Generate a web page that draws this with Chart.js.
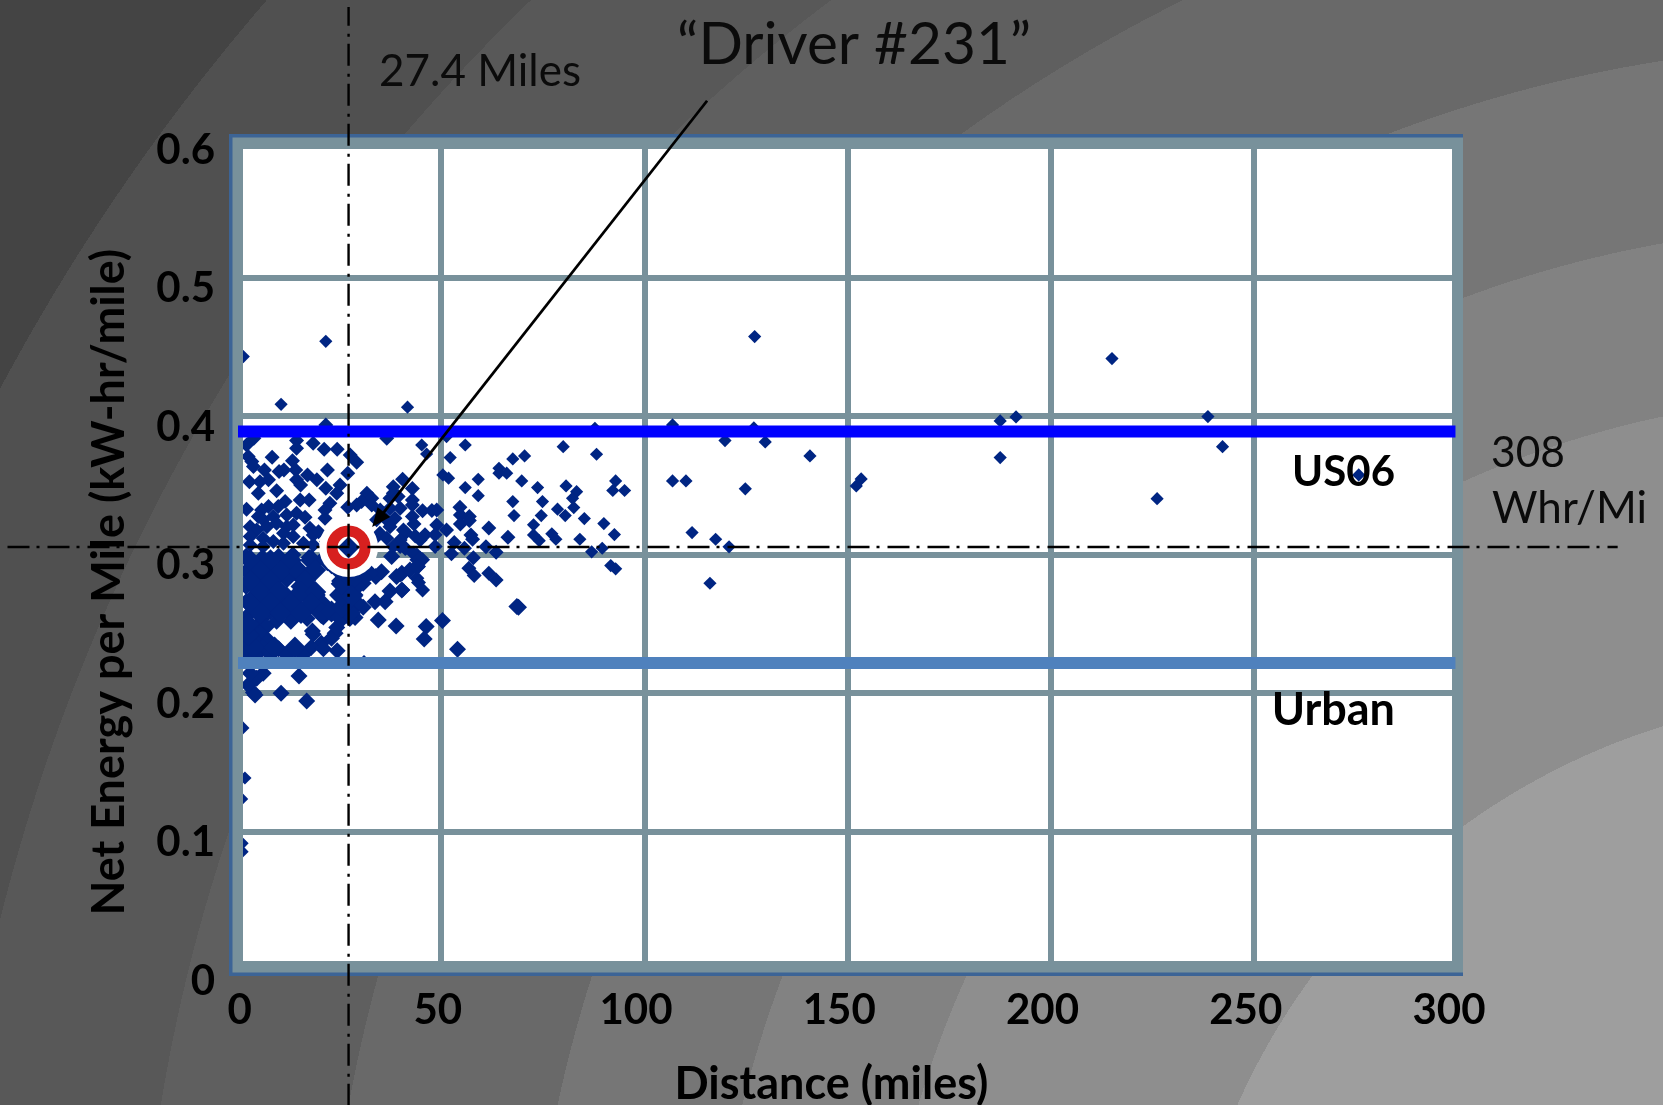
<!DOCTYPE html>
<html>
<head>
<meta charset="utf-8">
<title>Driver #231</title>
<script src="https://cdn.jsdelivr.net/npm/chart.js@4/dist/chart.umd.min.js"></script>
<style>html,body{margin:0;padding:0;overflow:hidden;background:#666}canvas{display:block}</style>
</head>
<body>
<canvas id="c" width="1663" height="1105"></canvas>
<script>
const xTickLabels = ['  0',' 50','100','150','200','250','300'];
const yTickLabels = ['0','0.1','0.2','0.3','0.4','0.5','0.6'];
const xTitle = 'Distance (miles)';
const yTitle = 'Net Energy per Mile (kW-hr/mile)';
const us06Energy = 0.389;
const urbanEnergy = 0.2218;
const driverDistance = 27.2;
const driverEnergy = 0.3053;

// Trips: [distance, net energy per mile]
const farTrips = [[41.7,.4066],[45.2,.3793],[46.4,.3728],[51.3,.3854],[55.9,.3793],[52.2,.3702],[50.4,.3577],[51.8,.3553],[59.1,.3545],[55.9,.3485],[59.1,.3427],[64.2,.3625],[64.2,.3589],[66.1,.3589],[67.6,.3692],[70.5,.3714],[69.8,.3533],[73.7,.3485],[74.9,.3384],[67.6,.3384],[67.9,.3283],[74.6,.3283],[72.7,.3216],[72.7,.3143],[74.1,.3102],[77.2,.3151],[78.2,.3112],[78.6,.3329],[80.5,.3283],[80.0,.3781],[80.7,.3497],[83.3,.3456],[82.3,.3408],[82.6,.3341],[85.2,.3261],[84.1,.3112],[90.0,.3225],[92.6,.3146],[88.2,.3726],[87.8,.3914],[92.9,.3533],[92.2,.3464],[95.1,.3464],[87.0,.3021],[89.6,.3047],[91.7,.2922],[92.9,.2898],[106.9,.3938],[119.8,.3825],[106.9,.3533],[110.2,.3533],[124.8,.3476],[111.7,.3160],[117.5,.3112],[120.8,.3057],[116.1,.2794],
[127.1,.4576],[129.7,.3815],[126.9,.3916],[140.7,.3714],[152.1,.3497],[153.3,.3548],[187.5,.3967],[191.4,.3996],[187.5,.3702],[215,.4417],[238.6,.3998],[242.2,.3781],[226.1,.3405],[275.7,.3577],
[21.6,.4542],[10.6,.4087],[1.3,.4432],[1.2,.1749],[1.7,.1387],[.9,.1236],[1,.0915],[1,.0855],[31.0,.2228]];

const midTrips = [[54.6,.3343],[54.7,.3288],[54.7,.3223],[56.9,.3276],[56.9,.3247],[51.3,.3179],[48.9,.3215],[48.9,.3324],[47.7,.3319],[45.4,.3317],[42.9,.3396],[42.9,.3360],[42.9,.3478],[40.5,.3545],[42.9,.3276],[43.3,.3223],[41.3,.3160],[43.6,.3136],[46.0,.3144],[48.5,.3144],[44.8,.3107],[41.2,.3047],[48.5,.3059],[53.2,.3088],[52.5,.3008],[55.7,.3047],[57.3,.3143],[57.7,.3112],[61.0,.3057],[63.5,.3018],[61.7,.3194],[66.4,.3126],[57.9,.2979],[56.8,.2902],[58.1,.2850],[61.7,.2866],[63.5,.2818],[44.0,.2999],[45.4,.2963],[44,.2963],[44.4,.2915],[42.2,.2886],[44,.2830],[44.4,.2799],[45.4,.2746],[40.5,.2746],[39.9,.2854],
[37.4,.3408],[38.2,.3492],[38.2,.3444],[31.7,.3444],[32.9,.3408],[35,.3324],[37.4,.3336],[39.9,.3336],[39.4,.3420],[39.9,.3059],[41.1,.3047],[43.1,.3011],[36.6,.3842],[29.2,.3668],[27.6,.3721],[27,.3589],[25.1,.3504],[24.3,.3444],[34.1,.3252],[36.2,.3264],[38.6,.3264],[40.7,.3179],[37.4,.3203],[34.9,.3155],[33.3,.3107],[36.6,.3119],[39.9,.3107],[38.2,.3059],[30.4,.3384],[32.9,.3360],[29.2,.3360],[27,.3343]];

const nearTrips = [[21.6,.3938],[14.4,.3825],[18.5,.3806],[3.9,.3842],[2.1,.3793],[21.2,.3762],[24.4,.3762],[14.4,.3769],
[2.5,.3709],[3.4,.3673],[3.8,.3637],[8.4,.3704],[13.4,.3680],[14.2,.3613],[10.1,.3601],[11.3,.3613],[6.5,.3613],[7.5,.3541],[22,.3613],[17.1,.3577],[19.4,.3541],[14.4,.3541],[15.4,.3504],[21.6,.3480],[2.8,.3528],[5.4,.3528],[5,.3444],[9.5,.3463],[22.6,.3372],[21.4,.3324],[21.4,.3264],[15.3,.3396],[17.5,.3396],[11.6,.3384],[9.9,.3348],[7.5,.3348],[5.8,.3324],[5,.3276],[6.2,.3252],[2.1,.3329],[8.7,.3276],[12,.3288],[14.4,.3300],[16.5,.3271],[3,.3203],[4.6,.3179],[7.1,.3203],[9.5,.3227],[12,.3203],[13.6,.3215],[11.2,.3155],[13.6,.3131],[17.7,.3191],[18.5,.3143],[19.8,.3167],[3,.3131],[6.2,.3119],[8.7,.3095],[11.2,.3083],[3,.3071],[6.2,.3059],[16.1,.3083],[18.5,.3071],[21.8,.3095]];

// Heavier overplotted trips in the dense lower-left cloud
const denseTrips = [[68.6,.2626],[69.0,.2621],[50.3,.2525],[34.5,.2529],[38.9,.2486],[46.3,.2481],[45.8,.2392],[54,.2317],[30.8,.2620],[33.7,.2661],[36.2,.2661],[37.4,.2739],[40.3,.2746],[39,.2842],[40.3,.2866],[42.3,.2890],[44.8,.2967],[44,.2914],[37.8,.2987],[33.9,.2842],[35.3,.2878],[28.8,.2546],[23.9,.2433],[23.0,.2397],[24.4,.2307],[15,.2124],[10.6,.2000],[16.9,.1944],[3.8,.2004],[2.5,.2059],[4.2,.1987],[6.2,.2144],[4.6,.2108],[3,.2144],[28.4,.2746],[30.8,.2794],[28.8,.2710],[26.7,.2661],
[2,.299],[6,.298],[10,.299],[13.5,.300],[17.5,.298],[21.5,.299],[25,.298],
[4,.293],[8,.292],[12,.293],[19,.294],[23,.292],[27,.293],[30,.292],
[2,.288],[6,.287],[10,.288],[14,.287],[17.5,.287],[25,.287],[28,.288],[32.5,.287],
[4,.282],[8,.281],[12,.282],[16,.283],[25,.281],[28.5,.282],[31,.283],
[2,.277],[6,.276],[10,.276],[15,.277],[18,.277],[26,.276],[29.5,.277],
[4,.271],[8,.270],[12,.271],[16.5,.271],[19.5,.271],[24.5,.271],[28,.270],
[2,.266],[6,.265],[10,.266],[14,.265],[18,.266],[21,.265],[26,.265],[29.5,.265],
[4,.260],[8,.259],[12,.260],[16,.260],[20,.260],[24,.259],[27.5,.260],
[2,.255],[6,.254],[9.5,.252],[13,.252],[17,.254],[21,.255],[25,.254],[27.5,.254],
[1.5,.249],[4.5,.248],[7,.248],[18.3,.245],[24.3,.2475],
[2,.244],[5.5,.243],[18.5,.2425],
[1.5,.238],[4,.238],[7.5,.238],[20.5,.236],
[2,.233],[6,.233],[10,.232],[14,.232],[18,.233],[21,.232],
[1.5,.2275],[4.5,.2275],[8,.2275],[12,.2275],[16,.2275]];

// Solidly overplotted core of the cloud
const coreTrips = [[3,.296],[8,.296],[13,.296],[18,.296],[22,.296],[26,.293],
[5.5,.288],[10.5,.288],[15,.288],[19,.289],
[3,.281],[8,.281],[16.5,.2815],
[5.5,.273],[10,.273],[15.5,.273],[19,.273],
[3,.265],[8,.265],[13,.265],[18,.265],
[5.5,.258],[10.5,.258],[15.5,.258],[20.5,.258],[23,.259],[25.5,.255],[27.5,.258],
[25.5,.262],[25.5,.270],[25.5,.279],[28,.282],[28,.270],
[4,.233],[9,.233],[14,.233],[2.5,.242],[2.5,.250]];

// Concentric background bands: radii and their grey levels
const bandRadii = [690,990,1160,1340,1545,1730,1925,2117];
const bandGreys = [158,142,130,118,105,95,88,80,68];

const stops = [];
bandRadii.forEach((r, i) => {
  const g = bandGreys[i];
  const prev = i ? bandRadii[i-1] : 0;
  stops.push(`rgb(${g},${g},${g}) ${prev}px`, `rgb(${g},${g},${g}) ${r}px`);
});
const lastG = bandGreys[bandGreys.length-1];
stops.push(`rgb(${lastG},${lastG},${lastG}) ${bandRadii[bandRadii.length-1]}px`);
document.body.style.background = `radial-gradient(circle at 1868px 1385px, ${stops.join(',')})`;

const toXY = p => ({x:p[0], y:p[1]});
const FRAME = '#78919b', EDGE = '#3c6496', DIAMOND = '#002583';

const slidePlugin = {
  id:'slide',
  beforeDraw(chart){
    const ctx = chart.ctx, a = chart.chartArea;
    ctx.save();
    ctx.fillStyle = '#fff';
    ctx.fillRect(a.left, a.top, a.right-a.left, a.bottom-a.top);
    ctx.restore();
  },
  afterDatasetDraw(chart, args){
    if (chart.data.datasets[args.index].label !== 'Trips (core)') return;
    const ctx = chart.ctx, a = chart.chartArea;
    const L=a.left-7, T=a.top-3.5, R=a.right+5.5, B=a.bottom+5;
    ctx.save();
    ctx.fillStyle = FRAME;
    ctx.fillRect(L, T, 12, B-T);
    ctx.fillRect(R-11, T, 11, B-T);
    ctx.fillRect(L, T, R-L, 13);
    ctx.fillRect(L, B-14, R-L, 14);
    ctx.fillStyle = EDGE;
    ctx.fillRect(L-2, T-2, 3.5, B-T+3);
    ctx.fillRect(L-2, T-2, R-L+2, 3.5);
    ctx.fillRect(L-2, B-2.5, R-L+2, 3.5);
    ctx.restore();
  },
  afterDraw(chart){
    const ctx = chart.ctx, sx = chart.scales.x, sy = chart.scales.y;
    ctx.save();
    // arrow to the driver's point
    const x0 = sx.getPixelForValue(115.4), y0 = sy.getPixelForValue(.628);
    const x1 = sx.getPixelForValue(33), y1 = sy.getPixelForValue(.320);
    const ang = Math.atan2(y1-y0, x1-x0);
    ctx.strokeStyle = '#000'; ctx.lineWidth = 2.8;
    ctx.beginPath(); ctx.moveTo(x0,y0);
    ctx.lineTo(x1-14*Math.cos(ang), y1-14*Math.sin(ang)); ctx.stroke();
    ctx.fillStyle = '#000';
    ctx.beginPath(); ctx.moveTo(x1,y1);
    ctx.lineTo(x1-19*Math.cos(ang)+8*Math.sin(ang), y1-19*Math.sin(ang)-8*Math.cos(ang));
    ctx.lineTo(x1-19*Math.cos(ang)-8*Math.sin(ang), y1-19*Math.sin(ang)+8*Math.cos(ang));
    ctx.closePath(); ctx.fill();
    // slide labels
    ctx.textBaseline = 'middle'; ctx.fillStyle = '#0b0b0b';
    ctx.textAlign = 'left';
    ctx.font = '400 44px Lato';
    ctx.fillText('27.4 Miles', 379, 72);
    ctx.font = '400 58.5px Lato';
    ctx.fillText('\u201CDriver #231\u201D', 677, 45);
    ctx.font = '400 42.5px Lato';
    ctx.fillText('308', 1491, 453);
    ctx.font = '400 44px Lato';
    ctx.fillText('Whr/Mi', 1492, 509);
    ctx.fillStyle = '#000';
    ctx.textAlign = 'right';
    ctx.font = '700 42px Lato';
    ctx.fillText('US06', 1395, 472);
    ctx.font = '700 45px Lato';
    ctx.fillText('Urban', 1395, 710);
    ctx.restore();
  }
};

const tickFont = {family:'Lato',size:42,weight:'700'};
const titleFont = {family:'Lato',size:45,weight:'700',lineHeight:1};

new Chart(document.getElementById('c'), {
  type:'scatter',
  plugins:[slidePlugin],
  data:{datasets:[
    {label:'27.4 Miles', order:0, showLine:true, clip:false, pointRadius:0, borderColor:'#000', borderWidth:2.4, borderDash:[22,7,3,8], data:[{x:driverDistance,y:-.098},{x:driverDistance,y:.6958}]},
    {label:'308 Whr/Mi', order:0.5, showLine:true, clip:false, pointRadius:0, borderColor:'#000', borderWidth:2.4, borderDash:[22,7,3,8], data:[{x:-56.7,y:.3056},{x:339.4,y:.3056}]},
    {label:'Driver #231', order:1, pointStyle:'rectRot', pointRadius:11, pointBorderWidth:0, backgroundColor:DIAMOND, data:[{x:driverDistance,y:driverEnergy}]},
    {label:'Driver ring', order:2, pointStyle:'circle', pointRadius:16.5, pointBorderWidth:11, pointBorderColor:'#d7201f', backgroundColor:'#fff', data:[{x:driverDistance,y:driverEnergy}]},
    {label:'Driver halo', order:3, pointStyle:'circle', pointRadius:29.5, pointBorderWidth:0, backgroundColor:'#fff', data:[{x:driverDistance,y:driverEnergy}]},
    {label:'US06', order:4, showLine:true, clip:false, pointRadius:0, borderColor:'#0000ff', borderWidth:12, data:[{x:0,y:us06Energy},{x:299.5,y:us06Energy}]},
    {label:'Urban', order:5, showLine:true, clip:false, pointRadius:0, borderColor:'#4f81bd', borderWidth:12, data:[{x:0,y:urbanEnergy},{x:299.5,y:urbanEnergy}]},
    {label:'Trips (core)', order:6, clip:false, pointStyle:'rectRot', pointRadius:11, pointBorderWidth:0, backgroundColor:DIAMOND, data:coreTrips.map(toXY)},
    {label:'Trips (dense)', order:7, clip:false, pointStyle:'rectRot', pointRadius:8.5, pointBorderWidth:0, backgroundColor:DIAMOND, data:denseTrips.map(toXY)},
    {label:'Trips (near)', order:8, clip:false, pointStyle:'rectRot', pointRadius:7.5, pointBorderWidth:0, backgroundColor:DIAMOND, data:midTrips.concat(nearTrips).map(toXY)},
    {label:'Trips (far)', order:9, clip:false, pointStyle:'rectRot', pointRadius:6.6, pointBorderWidth:0, backgroundColor:DIAMOND, data:farTrips.map(toXY)}
  ]},
  options:{
    responsive:false, animation:false, events:[],
    layout:{padding:{top:139.5,right:205.5,left:0,bottom:0}},
    plugins:{legend:{display:false},tooltip:{enabled:false},title:{display:false}},
    scales:{
      x:{type:'linear',min:0,max:300,
        afterFit(s){s.height=135;},
        grid:{color:FRAME,lineWidth:6,drawTicks:false},border:{display:false},
        ticks:{stepSize:50,maxRotation:0,autoSkip:false,padding:15,labelOffset:-8.5,color:'#000',font:tickFont,callback:(v,i)=>xTickLabels[i]},
        title:{display:true,text:xTitle+'   ',color:'#000',font:titleFont,padding:{top:0,bottom:-2}}
      },
      y:{type:'linear',min:0,max:.6,
        afterFit(s){s.width=238;},
        grid:{color:FRAME,lineWidth:6,drawTicks:false},border:{display:false},
        ticks:{stepSize:.1,autoSkip:false,padding:23,labelOffset:11,color:'#000',font:tickFont,callback:(v,i)=>yTickLabels[i]},
        title:{display:true,text:yTitle+'     ',color:'#000',font:titleFont,padding:{top:87,bottom:0}}
      }
    }
  }
});
</script>
</body>
</html>
